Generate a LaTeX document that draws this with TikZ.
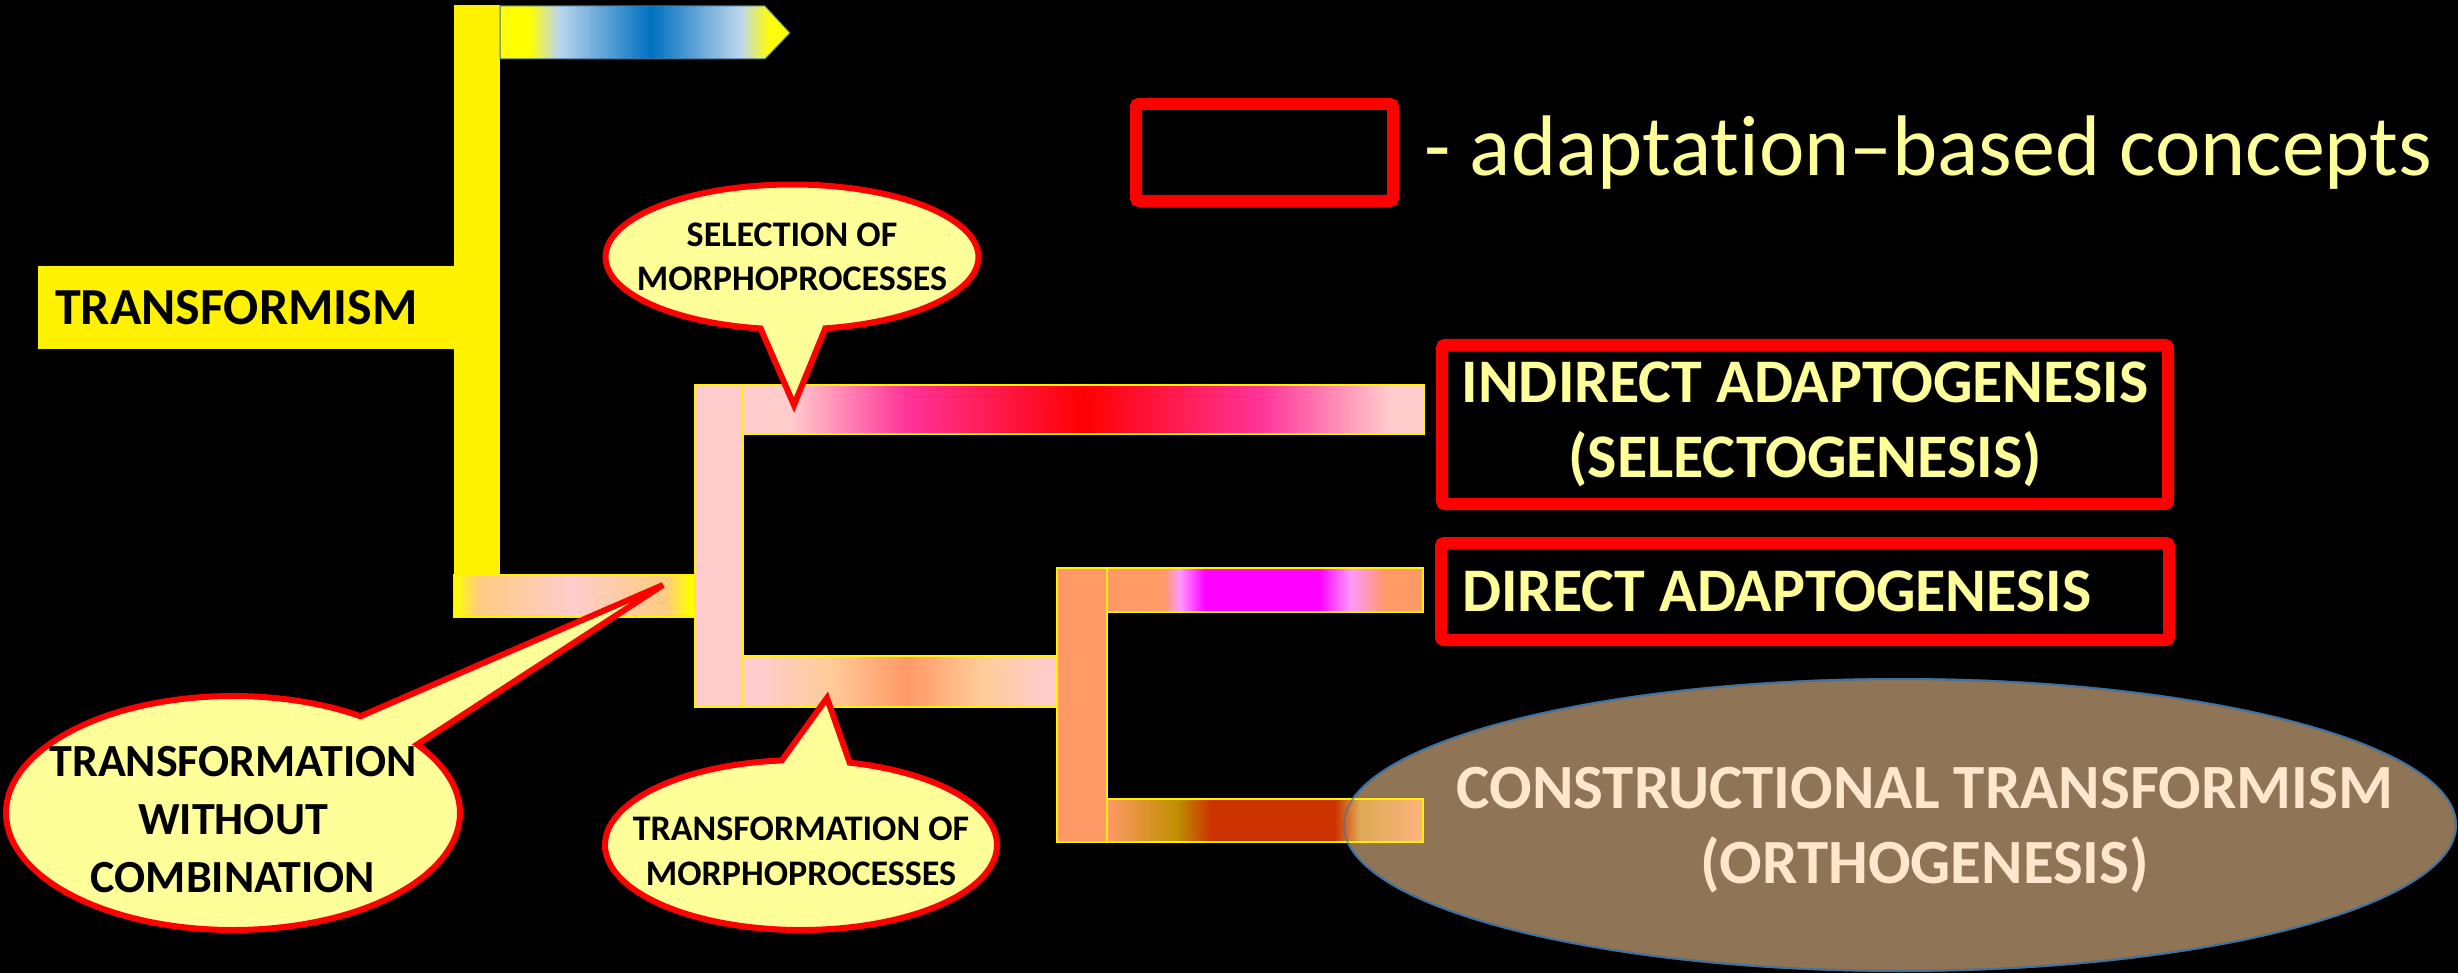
\documentclass[tikz,border=0pt]{standalone}
\usepackage{fontspec}
\setmainfont{Carlito}[Ligatures={TeX,NoCommon,NoContextual},Contextuals=NoAlternate]
\usetikzlibrary{positioning,shapes.geometric,shapes.callouts}
\definecolor{BarPink}{HTML}{FFCCCC}
\definecolor{HotPink}{HTML}{FF3399}
\definecolor{Peach}{HTML}{FFCC99}
\definecolor{StemPeach}{HTML}{FFCC80}
\definecolor{BarOrange}{HTML}{FF9966}
\definecolor{LightMagenta}{HTML}{FF99FF}
\definecolor{OliveGold}{HTML}{BF9000}
\definecolor{Rust}{HTML}{CC3300}
\definecolor{GoldMix}{HTML}{DDAA55}
\definecolor{LightOrange}{HTML}{FFB380}
\definecolor{PaleBlue}{HTML}{BDD7EE}
\definecolor{DeepBlue}{HTML}{0070C0}
\definecolor{ArrowEdge}{HTML}{41719C}
\definecolor{BubbleFill}{HTML}{FFFF99}
\definecolor{TextYellow}{HTML}{FFFF99}
\definecolor{OrthoBrown}{HTML}{8F7456}
\definecolor{OrthoEdge}{HTML}{41719C}
\definecolor{OrthoText}{HTML}{FFE6CC}

% bar shadings (inner 25bp--75bp is what ends up inside the bar)
\pgfdeclarehorizontalshading{bluebar}{100bp}{color(0bp)=(yellow); color(30bp)=(yellow); color(35bp)=(PaleBlue); color(51bp)=(DeepBlue); color(66.5bp)=(PaleBlue); color(71.5bp)=(yellow); color(100bp)=(yellow)}
\pgfdeclarehorizontalshading{stembar}{100bp}{color(0bp)=(yellow); color(25bp)=(yellow); color(30bp)=(StemPeach); color(49.5bp)=(BarPink); color(69bp)=(StemPeach); color(74bp)=(yellow); color(100bp)=(yellow)}
\pgfdeclarehorizontalshading{redbar}{100bp}{color(0bp)=(BarPink); color(28.5bp)=(BarPink); color(37bp)=(HotPink); color(50bp)=(red); color(63bp)=(HotPink); color(72.5bp)=(BarPink); color(100bp)=(BarPink)}
\pgfdeclarehorizontalshading{trfbar}{100bp}{color(0bp)=(BarPink); color(28bp)=(BarPink); color(38.5bp)=(Peach); color(51bp)=(BarOrange); color(63bp)=(Peach); color(73.5bp)=(BarPink); color(100bp)=(BarPink)}
\pgfdeclarehorizontalshading{dirbar}{100bp}{color(0bp)=(BarOrange); color(34bp)=(BarOrange); color(36.5bp)=(LightMagenta); color(40.5bp)=(magenta); color(58.5bp)=(magenta); color(63.5bp)=(LightMagenta); color(69bp)=(BarOrange); color(100bp)=(BarOrange)}
\pgfdeclarehorizontalshading{orthobar}{100bp}{color(0bp)=(BarOrange); color(25bp)=(BarOrange); color(36bp)=(OliveGold); color(41.5bp)=(Rust); color(61bp)=(Rust); color(65bp)=(GoldMix); color(75bp)=(LightOrange); color(100bp)=(LightOrange)}

\begin{document}
\begin{tikzpicture}[x=1pt,y=-1pt,
    bar/.style={draw=yellow,line width=1.5,inner sep=0,outer sep=0,anchor=north west},
    bubble/.style={ellipse callout,draw=red,line width=6,fill=BubbleFill,callout pointer arc=20,inner sep=0},
    bubtext/.style={align=center,text=black,inner sep=0},
    concept/.style={draw=red,line width=12,rounded corners=3,text=TextYellow,inner sep=0,align=center,
      font=\bfseries\fontsize{62}{75}\selectfont}
  ]
  \fill[black] (0,0) rectangle (2458,973);
  \useasboundingbox (0,0) rectangle (2458,973);

  % transformism trunk
  \node[bar,draw=none,fill=yellow,minimum width=46,minimum height=612] (trunk) at (454,5) {};
  \node[bar,draw=none,fill=yellow,minimum width=416,minimum height=83,text width=382,inner xsep=17,
    align=left,font=\bfseries\fontsize{52}{62}\selectfont] (transf) at (38,266) {TRANSFORMISM};
  \shadedraw[shading=bluebar,draw=ArrowEdge,line width=1]
    (500,6) -- (765,6) -- (790,33) -- (765,59) -- (500,59) -- cycle;
  \node[bar,shade,shading=stembar,minimum width=241,minimum height=42] (stem) at (454,575) {};

  % adaptation branch
  \node[bar,fill=BarPink,minimum width=48,minimum height=322] (pinkv) at (695,385) {};
  \node[bar,shade,shading=redbar,minimum width=681,minimum height=49] (selbar) at (pinkv.north east) {};
  \node[bar,anchor=south west,shade,shading=trfbar,minimum width=314,minimum height=51] (trfbar) at (pinkv.south east) {};
  \node[bar,fill=BarOrange,minimum width=50,minimum height=274] (orangev) at (1057,568) {};
  \node[bar,shade,shading=dirbar,minimum width=316,minimum height=44] (dirbar) at (orangev.north east) {};

  % orthogenesis
  \node[ellipse,draw=OrthoEdge,line width=2,fill=OrthoBrown,minimum width=1112,minimum height=292,inner sep=0] (ortho) at (1900,825) {};
  \node[bar,anchor=south west,shade,shading=orthobar,minimum width=316,minimum height=43] (orthobar) at (orangev.south east) {};
  \draw[OrthoEdge,line width=2,draw opacity=0.6] (ortho.center) ellipse [x radius=556,y radius=146];
  \node[align=center,inner sep=0,text=OrthoText,font=\bfseries\fontsize{63}{75}\selectfont,xshift=25pt,yshift=-5pt]
    (orthotext) at (ortho.center) {CONSTRUCTIONAL TRANSFORMISM\\(ORTHOGENESIS)};

  % adaptation-based concepts
  \node[concept,minimum width=726,minimum height=159] (indirect) at (1805,424.5) {INDIRECT ADAPTOGENESIS\\(SELECTOGENESIS)};
  \node[concept,minimum width=728,minimum height=97,inner xsep=21] (direct) at (1805,591.5) {\makebox[686pt][l]{DIRECT ADAPTOGENESIS}};
  \node[concept,minimum width=257,minimum height=97] (legend) at (1264.5,152.5) {};
  \node[right=25pt of legend,inner sep=0,text=TextYellow,font=\fontsize{86}{100}\selectfont] (legendtext) {- adaptat\kern0pt ion–based concepts};

  % callouts
  \node[bubble,minimum width=373,minimum height=145,callout absolute pointer={(794,405)}] (selbub) at (792,257) {};
  \node[bubtext,font=\bfseries\fontsize{36}{44}\selectfont] (seltext) at (selbub.center) {SELECTION OF\\MORPHOPROCESSES};
  \node[bubble,minimum width=454,minimum height=234,callout absolute pointer={(663,585)}] (combbub) at (233,813) {};
  \node[bubtext,font=\bfseries\fontsize{46}{58}\selectfont,yshift=-7pt] (combtext) at (combbub.center) {TRANSFORMATION\\WITHOUT\\COMBINATION};
  \node[bubble,minimum width=392,minimum height=170,callout absolute pointer={(827,698)}] (morphbub) at (801,845) {};
  \node[bubtext,font=\bfseries\fontsize{36}{45}\selectfont,yshift=-6pt] (morphtext) at (morphbub.center) {TRANSFORMATION OF\\MORPHOPROCESSES};
\end{tikzpicture}
\end{document}
